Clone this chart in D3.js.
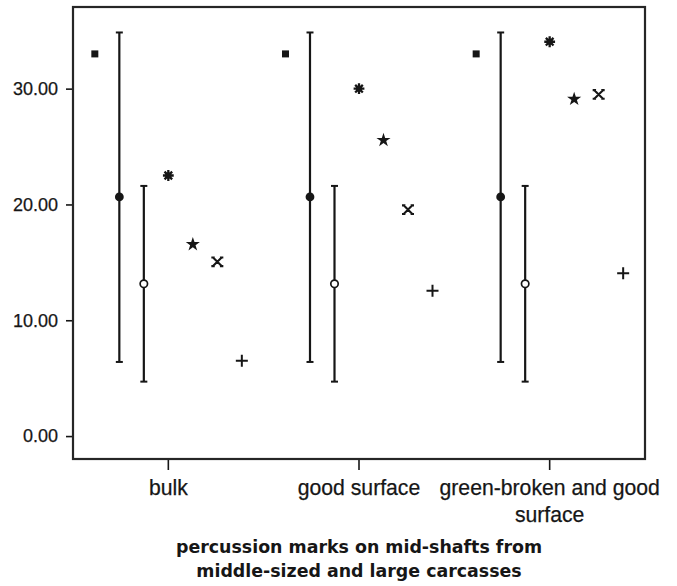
<!DOCTYPE html>
<html><head><meta charset="utf-8">
<script src="https://cdn.jsdelivr.net/npm/d3@7"></script>
<style>body{margin:0;background:#fff}svg{display:block}</style>
</head><body><svg id="c" width="677" height="586"></svg>
<script>
// ---- data ----
const categories = ["bulk", "good surface", "green-broken and good surface"];
const seriesNames = ["square", "meanA", "meanB", "asterisk", "star", "cross", "plus"];
const squareVals = [33.0, 33.0, 33.0];
const barAMean = [20.65, 20.65, 20.65];
const barALow = [6.4, 6.4, 6.4];
const barAHigh = [34.85, 34.85, 34.85];
const barBMean = [13.15, 13.15, 13.15];
const barBLow = [4.7, 4.7, 4.7];
const barBHigh = [21.6, 21.6, 21.6];
const asteriskVals = [22.5, 30.0, 34.05];
const starVals = [16.55, 25.55, 29.1];
const crossVals = [15.05, 19.55, 29.5];
const plusVals = [6.5, 12.55, 14.05];
const yTicks = [0, 10, 20, 30];
const titleLines = ["percussion marks on mid-shafts from", "middle-sized and large carcasses"];

// ---- layout ----
const L = 73, R = 645, T = 7, B = 459;
const ink = "#161616";
const svg = d3.select("#c");

const y = d3.scaleLinear().domain([-1.98, 37.05]).range([B, T]);
const x = d3.scaleBand().domain(categories).range([L, R]);
const inner = d3.scalePoint().domain(seriesNames).range([-73.5, 73.5]);
const px = (i, s) => x(categories[i]) + x.bandwidth() / 2 + inner(s);

// y axis
const ya = svg.append("g").attr("transform", `translate(${L},0)`)
  .call(d3.axisLeft(y).tickValues(yTicks).tickFormat(d3.format(".2f")).tickSize(7).tickPadding(8));
ya.select(".domain").remove();
ya.selectAll("line").attr("stroke", ink).attr("stroke-width", 1.6);
ya.selectAll("text").attr("font-family", "Liberation Sans, Arial, sans-serif").attr("font-size", 18)
  .attr("fill", ink).attr("stroke", ink).attr("stroke-width", 0.25);

// x axis
const xa = svg.append("g").attr("transform", `translate(0,${B})`)
  .call(d3.axisBottom(x).tickSize(11).tickFormat(""));
xa.select(".domain").remove();
xa.selectAll("line").attr("stroke", ink).attr("stroke-width", 1.6);
const xLabelLines = { "bulk": ["bulk"], "good surface": ["good surface"], "green-broken and good surface": ["green-broken and good", "surface"] };
categories.forEach(c => {
  const t = svg.append("text").attr("x", x(c) + x.bandwidth() / 2).attr("y", 495)
    .attr("text-anchor", "middle").attr("font-family", "Liberation Sans, Arial, sans-serif")
    .attr("font-size", 21.2).attr("fill", ink).attr("stroke", ink).attr("stroke-width", 0.25);
  xLabelLines[c].forEach((ln, k) => t.append("tspan").attr("x", x(c) + x.bandwidth() / 2).attr("dy", k ? 26.5 : 0).text(ln));
});

// frame
svg.append("rect").attr("x", L).attr("y", T).attr("width", R - L).attr("height", B - T)
  .attr("fill", "none").attr("stroke", "#262626").attr("stroke-width", 2.2);

// error bars
function errBars(s, lo, hi, mean, hollow) {
  const g = svg.append("g");
  categories.forEach((c, i) => {
    const cx = px(i, s);
    g.append("line").attr("x1", cx).attr("x2", cx).attr("y1", y(lo[i])).attr("y2", y(hi[i]))
      .attr("stroke", ink).attr("stroke-width", 2.2);
    [lo[i], hi[i]].forEach(v => g.append("line").attr("x1", cx - 3.5).attr("x2", cx + 3.5)
      .attr("y1", y(v)).attr("y2", y(v)).attr("stroke", ink).attr("stroke-width", 2));
    g.append("circle").attr("cx", cx).attr("cy", y(mean[i])).attr("r", hollow ? 3.7 : 4.4)
      .attr("fill", hollow ? "#fff" : ink).attr("stroke", ink).attr("stroke-width", hollow ? 1.7 : 0);
  });
}
errBars("meanA", barALow, barAHigh, barAMean, false);
errBars("meanB", barBLow, barBHigh, barBMean, true);

// squares
svg.append("g").selectAll("rect").data(squareVals).join("rect")
  .attr("x", (d, i) => px(i, "square") - 3.5).attr("y", d => y(d) - 3.5)
  .attr("width", 7).attr("height", 7).attr("fill", ink);

// asterisk (8 rays)
function asteriskPath(r) {
  const p = d3.path();
  for (let k = 0; k < 4; k++) {
    const a = k * Math.PI / 4;
    p.moveTo(-r * Math.cos(a), -r * Math.sin(a));
    p.lineTo(r * Math.cos(a), r * Math.sin(a));
  }
  return p.toString();
}
const ast = svg.append("g").selectAll("g").data(asteriskVals).join("g")
  .attr("transform", (d, i) => `translate(${px(i, "asterisk")},${y(d)})`);
ast.append("path").attr("d", asteriskPath(5.4)).attr("stroke", ink).attr("stroke-width", 2.3).attr("fill", "none");
ast.append("circle").attr("r", 3).attr("fill", ink);

// star
svg.append("g").selectAll("path").data(starVals).join("path")
  .attr("transform", (d, i) => `translate(${px(i, "star")},${y(d)})`)
  .attr("d", d3.symbol(d3.symbolStar, 62)).attr("fill", ink);

// cross with small end bars
function crossPath(r, c) {
  const p = d3.path();
  p.moveTo(-r, -r); p.lineTo(r, r);
  p.moveTo(r, -r); p.lineTo(-r, r);
  [[-r, -r], [r, -r], [-r, r], [r, r]].forEach(([a, b]) => { p.moveTo(a - c, b); p.lineTo(a + c, b); });
  return p.toString();
}
svg.append("g").selectAll("path").data(crossVals).join("path")
  .attr("transform", (d, i) => `translate(${px(i, "cross")},${y(d)})`)
  .attr("d", crossPath(4.3, 1.7)).attr("stroke", ink).attr("stroke-width", 2.1).attr("fill", "none");

// plus
function plusPath(r) {
  const p = d3.path();
  p.moveTo(-r, 0); p.lineTo(r, 0); p.moveTo(0, -r); p.lineTo(0, r);
  return p.toString();
}
svg.append("g").selectAll("path").data(plusVals).join("path")
  .attr("transform", (d, i) => `translate(${px(i, "plus")},${y(d)})`)
  .attr("d", plusPath(6)).attr("stroke", ink).attr("stroke-width", 2).attr("fill", "none");

// title
const tt = svg.append("text").attr("x", (L + R) / 2).attr("y", 553).attr("text-anchor", "middle")
  .attr("font-family", "DejaVu Sans, Verdana, sans-serif").attr("font-weight", "bold")
  .attr("font-size", 17.4).attr("fill", ink);
titleLines.forEach((ln, k) => tt.append("tspan").attr("x", (L + R) / 2).attr("dy", k ? 24 : 0).text(ln));
</script></body></html>
